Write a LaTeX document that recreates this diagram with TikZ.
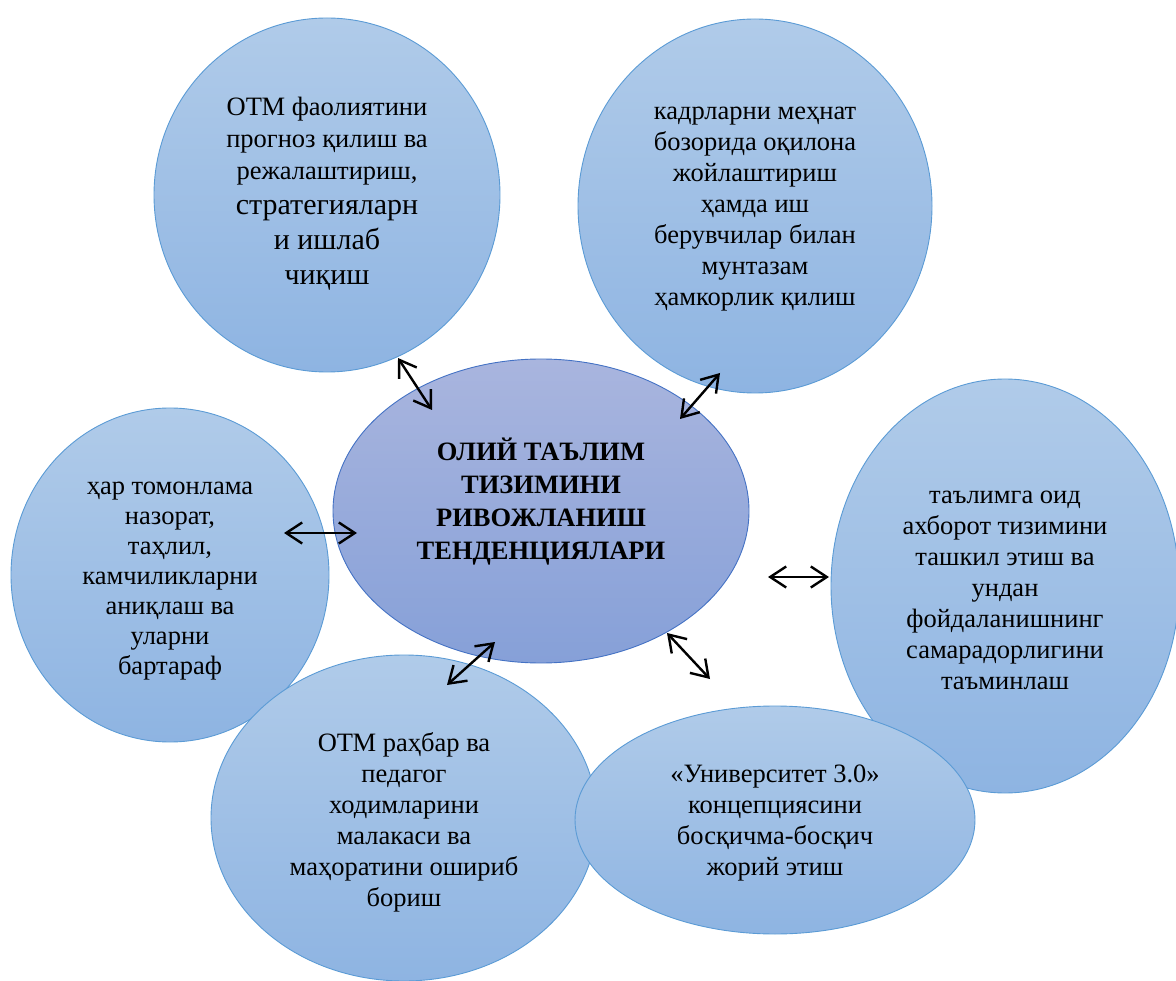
\documentclass[tikz,border=0pt]{standalone}
\usepackage{fontspec}
\setmainfont{Liberation Serif}
\usetikzlibrary{shapes.geometric,arrows.meta}
\definecolor{ctop}{RGB}{176,203,233}
\definecolor{cbot}{RGB}{142,180,226}
\definecolor{cline}{RGB}{91,155,213}
\definecolor{mtop}{RGB}{169,181,222}
\definecolor{mbot}{RGB}{134,160,216}
\definecolor{mline}{RGB}{68,114,196}
\begin{document}
\begin{tikzpicture}[x=1pt,y=-1pt,
  bubble/.style={ellipse, draw=cline, line width=0.9pt, top color=ctop, bottom color=cbot, inner sep=0pt},
  hub/.style={ellipse, draw=mline, line width=0.9pt, top color=mtop, bottom color=mbot, inner sep=0pt},
  txt/.style={inner sep=0pt, align=center, font=\fontsize{26.5}{31}\selectfont},
  hubtxt/.style={inner sep=0pt, align=center, font=\bfseries\fontsize{26.5}{33}\selectfont},
  link/.style={line width=2.4pt, {Straight Barb[length=16pt,width=21pt]}-{Straight Barb[length=16pt,width=21pt]}}]
\useasboundingbox (0,0) rectangle (1176,981);

% shapes, in stacking order
\node[bubble, minimum width=346pt, minimum height=354pt] (plan) at (327,195) {};
\node[bubble, minimum width=354pt, minimum height=374pt] (kadr) at (755,206) {};
\node[hub, minimum width=416pt, minimum height=304pt] (hubnode) at (541,511) {};
\node[bubble, minimum width=348pt, minimum height=414pt] (info) at (1005,586) {};
\node[bubble, minimum width=318pt, minimum height=334pt] (control) at (170,575) {};
\node[bubble, minimum width=386pt, minimum height=326pt] (staff) at (404,818) {};
\node[bubble, minimum width=400pt, minimum height=228pt] (univ) at (775,820) {};

% texts
\node[txt, font=\fontsize{26.5}{32}\selectfont] (plantxt) at ([yshift=1pt]plan.center)
  {ОТМ фаолиятини\\ прогноз қилиш ва\\ режалаштириш,\\[3pt]
   {\fontsize{30}{36}\selectfont стратегияларн}\\[3pt]
   {\fontsize{30}{36}\selectfont и ишлаб}\\[3pt]
   {\fontsize{30}{36}\selectfont чиқиш}};

\node[txt] (kadrtxt) at ([yshift=-3pt]kadr.center)
  {кадрларни меҳнат\\ бозорида оқилона\\ жойлаштириш\\ ҳамда иш\\ берувчилар билан\\ мунтазам\\ ҳамкорлик қилиш};

\node[hubtxt] (hubtxtnode) at ([yshift=9pt]hubnode.center)
  {ОЛИЙ ТАЪЛИМ\\ ТИЗИМИНИ\\ РИВОЖЛАНИШ\\ ТЕНДЕНЦИЯЛАРИ};

\node[txt] (infotxt) at ([yshift=-4pt]info.center)
  {таълимга оид\\ ахборот тизимини\\ ташкил этиш ва\\ ундан\\ фойдаланишнинг\\ самарадорлигини\\ таъминлаш};

\node[txt, font=\fontsize{26.5}{30}\selectfont] (controltxt) at ([yshift=-6pt]control.center)
  {ҳар томонлама\\ назорат,\\ таҳлил,\\ камчиликларни\\ аниқлаш ва\\ уларни\\ бартараф};

\node[txt] (stafftxt) at ([yshift=-4pt]staff.center)
  {ОТМ раҳбар ва\\ педагог\\ ходимларини\\ малакаси ва\\ маҳоратини ошириб\\ бориш};

\node[txt] (univtxt) at ([yshift=-3pt]univ.center)
  {«Университет 3.0»\\ концепциясини\\ босқичма-босқич\\ жорий этиш};

% connectors
\coordinate (a1) at (398,358); \coordinate (b1) at (432,410);
\coordinate (a2) at (720,373); \coordinate (b2) at (680,419);
\coordinate (a3) at (284,533); \coordinate (b3) at (357,533);
\coordinate (a4) at (768,577); \coordinate (b4) at (829,577);
\coordinate (a5) at (495,642); \coordinate (b5) at (447,685);
\coordinate (a6) at (667,633); \coordinate (b6) at (710,679);

\draw[link] (a1) -- (b1);
\draw[link] (a2) -- (b2);
\draw[link] (a3) -- (b3);
\draw[link] (a4) -- (b4);
\draw[link] (a5) -- (b5);
\draw[link] (a6) -- (b6);
\end{tikzpicture}
\end{document}
